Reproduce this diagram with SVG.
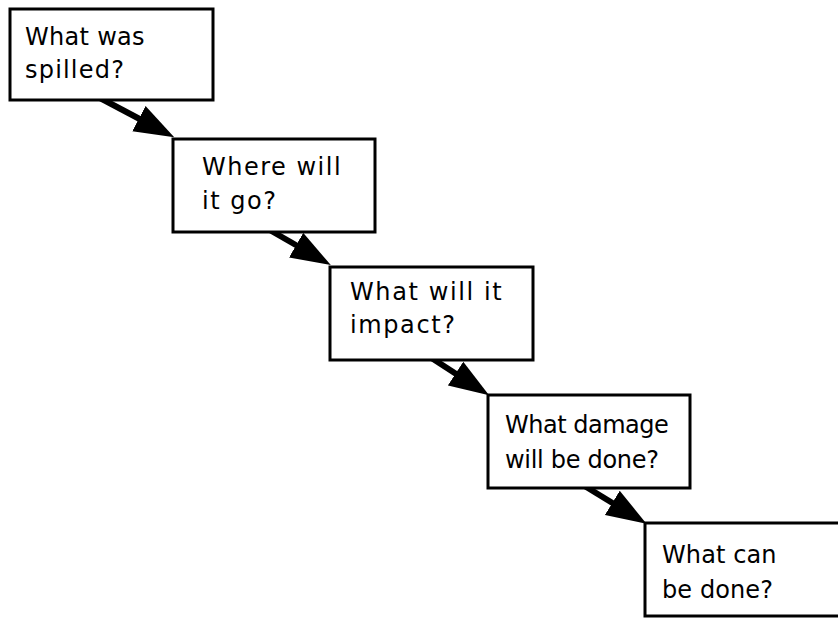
<svg xmlns="http://www.w3.org/2000/svg" width="838" height="618" viewBox="0 0 838 618">
<style>
.box{fill:#fff;stroke:#000;stroke-width:3}
.t{font-family:"DejaVu Sans","Liberation Sans",sans-serif;font-size:24px;fill:#000}
.c{stroke:#000;stroke-width:6;fill:none}
</style>
<defs>
<marker id="ah" markerUnits="userSpaceOnUse" markerWidth="40" markerHeight="29" viewBox="0 0 38 27" refX="13" refY="13.5" orient="auto">
<path d="M0,0 L38,13.5 L0,27 z" fill="#000"/>
</marker>
</defs>
<rect width="838" height="618" fill="#fff"/>
<g id="connectors">
<line class="c" x1="100" y1="98" x2="151" y2="125" marker-end="url(#ah)"/>
<line class="c" x1="268" y1="229" x2="308" y2="252" marker-end="url(#ah)"/>
<line class="c" x1="430" y1="357" x2="467" y2="381" marker-end="url(#ah)"/>
<line class="c" x1="583" y1="485" x2="624" y2="510" marker-end="url(#ah)"/>
</g>
<g id="n1">
<rect class="box" x="10" y="9" width="203" height="91"/>
<text class="t" x="25" y="45" letter-spacing="0.3">What was</text>
<text class="t" x="25" y="78" letter-spacing="1.2">spilled?</text>
</g>
<g id="n2">
<rect class="box" x="173" y="139" width="202" height="93"/>
<text class="t" x="202" y="175" letter-spacing="1.5">Where will</text>
<text class="t" x="202" y="209" letter-spacing="1.5">it go?</text>
</g>
<g id="n3">
<rect class="box" x="330" y="267" width="203" height="93"/>
<text class="t" x="350" y="300" letter-spacing="1.6">What will it</text>
<text class="t" x="350" y="333" letter-spacing="1.6">impact?</text>
</g>
<g id="n4">
<rect class="box" x="488" y="395" width="202" height="93"/>
<text class="t" x="505" y="433" letter-spacing="-0.5">What damage</text>
<text class="t" x="505" y="468" letter-spacing="-0.3">will be done?</text>
</g>
<g id="n5">
<rect class="box" x="645" y="523" width="203" height="93"/>
<text class="t" x="662" y="563" letter-spacing="0.1">What can</text>
<text class="t" x="662" y="598" letter-spacing="0.1">be done?</text>
</g>
</svg>
